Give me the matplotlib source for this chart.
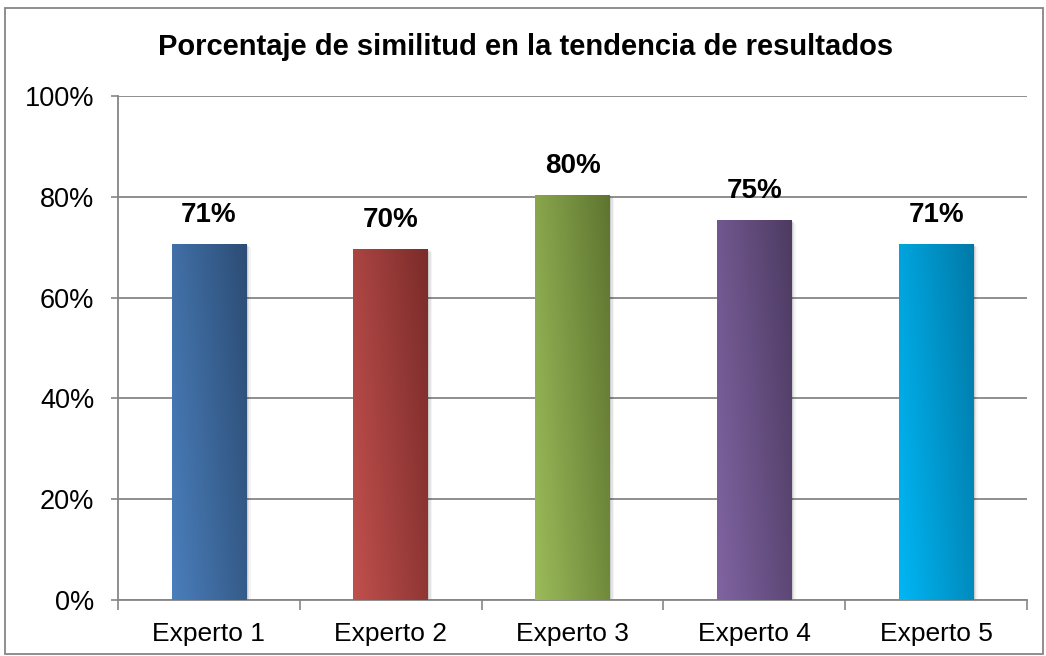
import matplotlib
matplotlib.use("Agg")
import matplotlib.pyplot as plt
import numpy as np
from matplotlib.colors import LinearSegmentedColormap
from matplotlib.patches import Rectangle

categories = ["Experto 1", "Experto 2", "Experto 3", "Experto 4", "Experto 5"]
values = [0.707, 0.697, 0.804, 0.754, 0.707]
title = "Porcentaje de similitud en la tendencia de resultados"
light_colors = ["#4a7ebb", "#c0504d", "#9bbb59", "#8064a2", "#00b6f4"]
dark_colors = ["#2c4d75", "#7b2c2a", "#5e7530", "#4d3b62", "#007aa8"]

plt.rcParams['font.family'] = ['Liberation Sans', 'DejaVu Sans']

fig = plt.figure(figsize=(10.46, 6.56), dpi=100)
ax = fig.add_axes([118/1046, 1-600/656, (1027-118)/1046, (600-96)/656])

x = np.arange(len(categories))
width = 0.41
bars = ax.bar(x, values, width=width, color="none", edgecolor="none", zorder=3)

# gradient fill + soft shadow
gx, gy = np.meshgrid(np.linspace(0, 1, 64), np.linspace(0, 1, 64))
grad = (gx * 0.7 + (1 - gy) * 0.3)
for b, c1, c2 in zip(bars, light_colors, dark_colors):
    bx, by = b.get_x(), b.get_y()
    bw, bh = b.get_width(), b.get_height()
    for k, a in enumerate([0.10, 0.07, 0.04]):
        sh = Rectangle((bx + 0.004 * (k + 1), by), bw + 0.004 * (k + 1), bh - 0.002 * (k + 1),
                       facecolor="#000000", alpha=a, edgecolor="none", zorder=2)
        ax.add_patch(sh)
    cmap = LinearSegmentedColormap.from_list("g", [c1, c2])
    im = ax.imshow(grad, cmap=cmap, extent=(bx, bx + bw, by, by + bh), origin="upper",
                   aspect="auto", zorder=4, interpolation="bilinear")
    rect = Rectangle((bx, by), bw, bh, transform=ax.transData, facecolor="none", edgecolor="none")
    ax.add_patch(rect)
    im.set_clip_path(rect)
    ax.text(b.get_x() + bw / 2, bh + 0.031, f"{bh:.0%}", ha="center", va="bottom",
            fontsize=20, fontweight="bold", color="black", zorder=5)

ax.set_xlim(-0.5, len(categories) - 0.5)
ax.set_ylim(0, 1.0)
ax.set_yticks(np.linspace(0, 1, 6))
ax.set_yticklabels([f"{int(v*100)}%" for v in np.linspace(0, 1, 6)], fontsize=19.5)
ax.set_xticks(x)
ax.set_xticklabels(categories, fontsize=19)
ax.set_xticks(np.arange(-0.5, len(categories), 1.0), minor=True)
ax.tick_params(axis="x", which="major", length=0, pad=16)
ax.tick_params(axis="x", which="minor", length=7, color="#868686", width=1.2)
ax.tick_params(axis="y", length=5, color="#868686", width=1.2, pad=12)
ax.yaxis.grid(True, color="#868686", linewidth=1.3, zorder=0)
ax.set_axisbelow(True)
for s in ["top", "right"]:
    ax.spines[s].set_visible(False)
for s in ["left", "bottom"]:
    ax.spines[s].set_color("#868686")
    ax.spines[s].set_linewidth(1.3)

fig.text(0.5 + 3/1046, 1 - 47/656, title, ha="center", va="center", fontsize=21, fontweight="bold")

border = Rectangle((4.5/1046, 2/656), 1038/1046, 646/656, transform=fig.transFigure,
                   facecolor="none", edgecolor="#868686", linewidth=1.3)
fig.add_artist(border)

fig.savefig("out.png", dpi=100)
